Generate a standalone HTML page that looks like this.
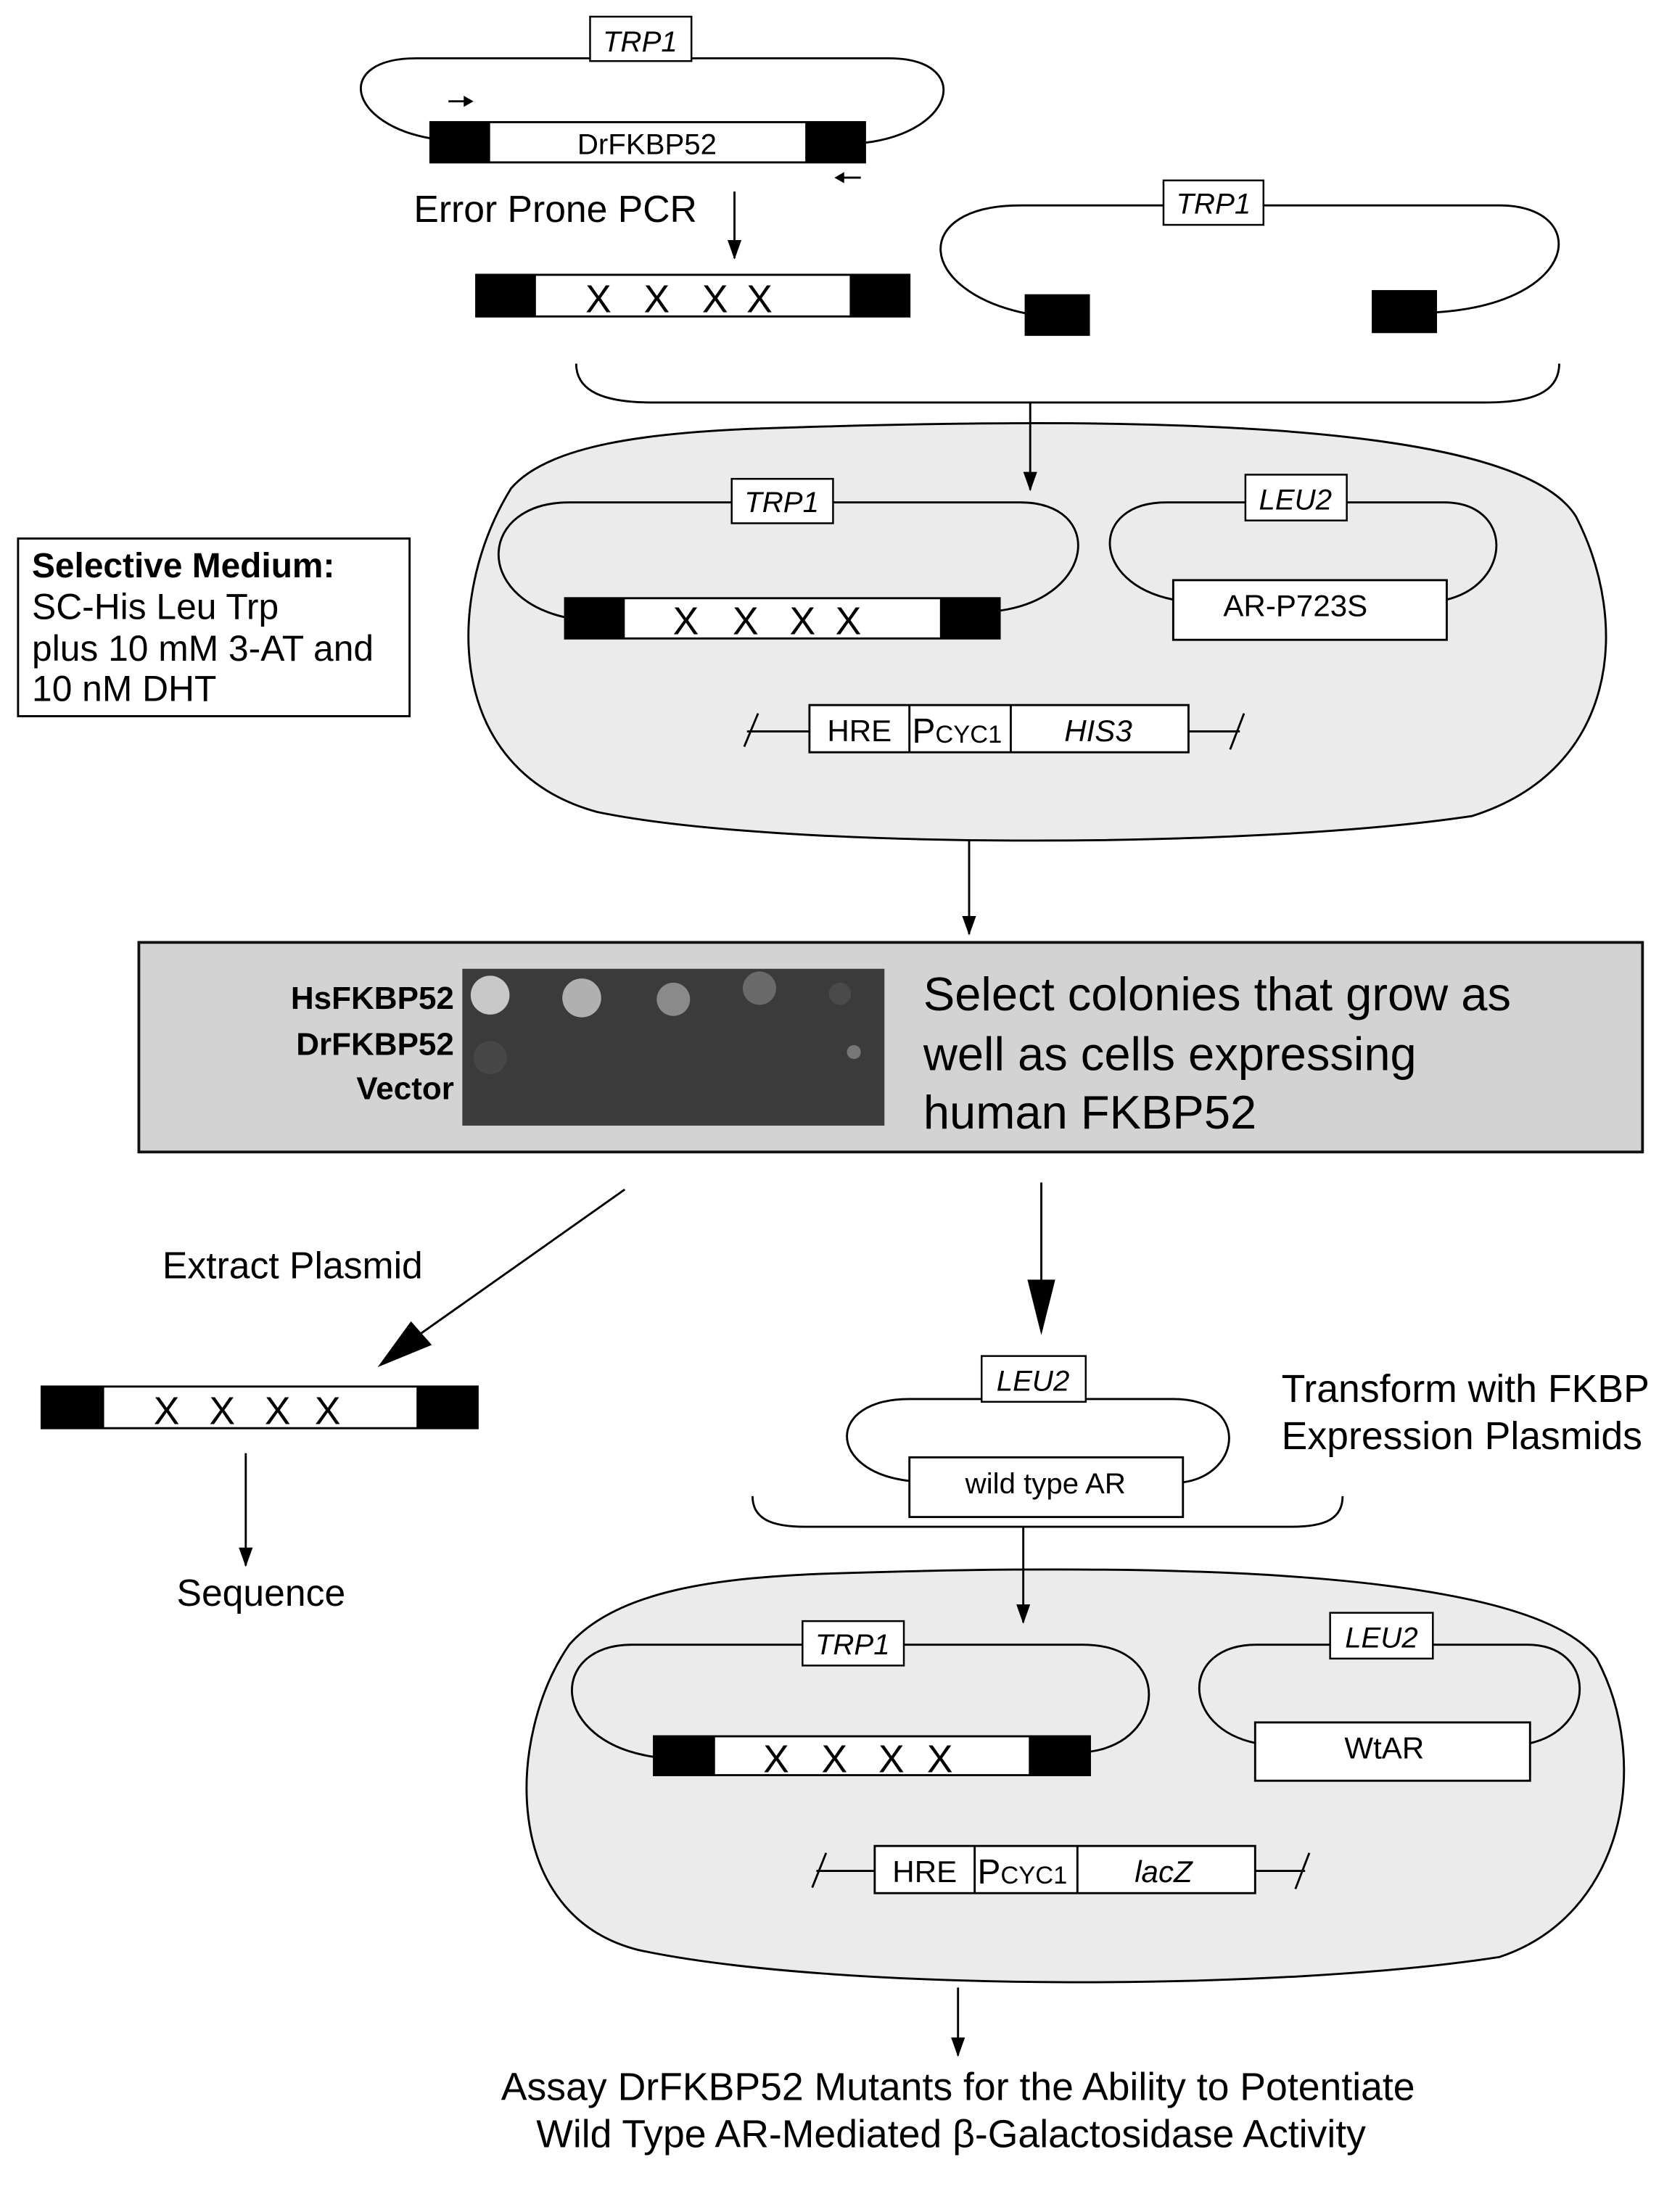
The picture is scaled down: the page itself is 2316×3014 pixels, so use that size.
<!DOCTYPE html>
<html><head><meta charset="utf-8"><style>
html,body{margin:0;padding:0;background:#fff}
svg{display:block}
text{font-family:"Liberation Sans",Arial,sans-serif;fill:#000}
</style></head><body>
<svg width="2316" height="3014" viewBox="0 0 1210 1575" preserveAspectRatio="none" xmlns="http://www.w3.org/2000/svg">
<defs>
<marker id="ah" markerWidth="14" markerHeight="10" refX="13" refY="5" orient="auto" markerUnits="userSpaceOnUse" viewBox="0 0 14 10"><path d="M0 0 L14 5 L0 10 Z" fill="#000"/></marker>
</defs>
<g fill="none" stroke="#000" stroke-width="1.5">
<path d="M312 100 C250 90 240 42 300 42 L640 42 C700 42 690 95 622 103"/>
</g>
<rect x="425" y="12" width="73" height="32" fill="#fff" stroke="#000" stroke-width="1.3"/>
<text x="461" y="37" font-size="21" font-style="italic" text-anchor="middle">TRP1</text>
<rect x="310" y="88" width="313" height="29" fill="#fff" stroke="#000" stroke-width="1.5"/>
<rect x="310" y="88" width="43" height="29" fill="#000"/><rect x="580" y="88" width="43" height="29" fill="#000"/>
<text x="466" y="111" font-size="21" text-anchor="middle">DrFKBP52</text>
<line x1="323" y1="73" x2="336" y2="73" stroke="#000" stroke-width="1.5"/><path d="M334 69 L341 73 L334 77Z"/>
<line x1="606" y1="128" x2="620" y2="128" stroke="#000" stroke-width="1.5"/><path d="M608 124 L601 128 L608 132Z"/>
<text x="298" y="160" font-size="27">Error Prone PCR</text>
<line x1="529" y1="138" x2="529" y2="186" stroke="#000" stroke-width="1.5" marker-end="url(#ah)"/>
<rect x="343" y="198" width="312" height="30" fill="#fff" stroke="#000" stroke-width="1.5"/>
<rect x="343" y="198" width="43" height="30" fill="#000"/><rect x="612" y="198" width="43" height="30" fill="#000"/>
<g font-size="28" text-anchor="middle"><text x="431" y="225">X</text><text x="473" y="225">X</text><text x="515" y="225">X</text><text x="547" y="225">X</text></g>
<path d="M740 226 C660 210 655 148 735 148 L1080 148 C1145 148 1140 218 1035 225" fill="none" stroke="#000" stroke-width="1.5"/>
<rect x="838" y="130" width="72" height="32" fill="#fff" stroke="#000" stroke-width="1.3"/>
<text x="874" y="154" font-size="21" font-style="italic" text-anchor="middle">TRP1</text>
<rect x="738" y="212" width="47" height="30" fill="#000"/><rect x="988" y="209" width="47" height="31" fill="#000"/>
<path d="M415 262 C415 282 435 290 470 290 L1070 290 C1105 290 1123 282 1123 262" fill="none" stroke="#000" stroke-width="1.5"/>
<!-- cell 1 -->
<path d="M540 309 C800 300 1090 300 1135 372 C1175 450 1165 555 1060 588 C900 612 560 612 430 585 C320 555 320 430 368 352 C395 320 470 312 540 309 Z" fill="#ebebeb" stroke="#000" stroke-width="1.5"/>
<line x1="742" y1="290" x2="742" y2="353" stroke="#000" stroke-width="1.5" marker-end="url(#ah)"/>
<path d="M408 445 C340 430 345 362 410 362 L735 362 C795 362 790 430 720 440" fill="none" stroke="#000" stroke-width="1.5"/>
<rect x="527" y="345" width="73" height="32" fill="#fff" stroke="#000" stroke-width="1.3"/>
<text x="563" y="369" font-size="21" font-style="italic" text-anchor="middle">TRP1</text>
<rect x="407" y="431" width="313" height="29" fill="#fff" stroke="#000" stroke-width="1.5"/>
<rect x="407" y="431" width="43" height="29" fill="#000"/><rect x="677" y="431" width="43" height="29" fill="#000"/>
<g font-size="28" text-anchor="middle"><text x="494" y="457">X</text><text x="537" y="457">X</text><text x="578" y="457">X</text><text x="611" y="457">X</text></g>
<path d="M845 432 C785 420 785 362 840 362 L1040 362 C1090 362 1090 420 1042 432" fill="none" stroke="#000" stroke-width="1.5"/>
<rect x="897" y="342" width="73" height="33" fill="#fff" stroke="#000" stroke-width="1.3"/>
<text x="933" y="367" font-size="21" font-style="italic" text-anchor="middle">LEU2</text>
<rect x="845" y="418" width="197" height="43" fill="#fff" stroke="#000" stroke-width="1.5"/>
<text x="933" y="444" font-size="22" text-anchor="middle">AR-P723S</text>
<g stroke="#000" stroke-width="1.5"><line x1="538" y1="527" x2="583" y2="527"/><line x1="536" y1="538" x2="546" y2="514"/><line x1="856" y1="527" x2="893" y2="527"/><line x1="886" y1="540" x2="896" y2="514"/></g>
<rect x="583" y="508" width="273" height="34" fill="#fff" stroke="#000" stroke-width="1.5"/>
<line x1="655" y1="508" x2="655" y2="542" stroke="#000" stroke-width="1.5"/><line x1="728" y1="508" x2="728" y2="542" stroke="#000" stroke-width="1.5"/>
<text x="619" y="534" font-size="22" text-anchor="middle">HRE</text>
<text x="657" y="535" font-size="25">P<tspan font-size="18">CYC1</tspan></text>
<text x="791" y="534" font-size="22" font-style="italic" text-anchor="middle">HIS3</text>
<rect x="13" y="388" width="282" height="128" fill="#fff" stroke="#000" stroke-width="1.5"/>
<text x="23" y="416" font-size="25" font-weight="bold">Selective Medium:</text>
<text x="23" y="446" font-size="26">SC-His Leu Trp</text>
<text x="23" y="476" font-size="26">plus 10 mM 3-AT and</text>
<text x="23" y="505" font-size="26">10 nM DHT</text>
<line x1="698" y1="605" x2="698" y2="673" stroke="#000" stroke-width="1.5" marker-end="url(#ah)"/>
<rect x="100" y="679" width="1083" height="151" fill="#d3d3d3" stroke="#111" stroke-width="2"/>
<rect x="333" y="698" width="304" height="113" fill="#3b3b3b"/>
<circle cx="353" cy="717" r="14" fill="#c8c8c8"/><circle cx="419" cy="719" r="14" fill="#b0b0b0"/>
<circle cx="485" cy="720" r="12" fill="#8a8a8a"/><circle cx="547" cy="712" r="12" fill="#6a6a6a"/>
<circle cx="605" cy="716" r="8" fill="#4a4a4a"/><circle cx="353" cy="762" r="12" fill="#474747"/><circle cx="615" cy="758" r="5" fill="#777"/>
<g font-size="23" font-weight="bold" text-anchor="end"><text x="327" y="727">HsFKBP52</text><text x="327" y="760">DrFKBP52</text><text x="327" y="792">Vector</text></g>
<g font-size="34"><text x="665" y="728">Select colonies that grow as</text><text x="665" y="771">well as cells expressing</text><text x="665" y="813">human FKBP52</text></g>
<line x1="450" y1="857" x2="300" y2="963" stroke="#000" stroke-width="1.5"/>
<path d="M272 985 L296 952 L311 969 Z"/>
<text x="117" y="921" font-size="27">Extract Plasmid</text>
<line x1="750" y1="852" x2="750" y2="925" stroke="#000" stroke-width="1.5"/>
<path d="M740 922 L750 962 L760 922 Z"/>
<rect x="30" y="999" width="314" height="30" fill="#fff" stroke="#000" stroke-width="1.5"/>
<rect x="30" y="999" width="45" height="30" fill="#000"/><rect x="300" y="999" width="44" height="30" fill="#000"/>
<g font-size="28" text-anchor="middle"><text x="120" y="1026">X</text><text x="160" y="1026">X</text><text x="200" y="1026">X</text><text x="236" y="1026">X</text></g>
<line x1="177" y1="1047" x2="177" y2="1128" stroke="#000" stroke-width="1.5" marker-end="url(#ah)"/>
<text x="188" y="1157" font-size="27" text-anchor="middle">Sequence</text>
<path d="M655 1067 C595 1060 595 1008 655 1008 L845 1008 C900 1008 895 1062 852 1068" fill="none" stroke="#000" stroke-width="1.5"/>
<rect x="707" y="977" width="75" height="33" fill="#fff" stroke="#000" stroke-width="1.3"/>
<text x="744" y="1002" font-size="21" font-style="italic" text-anchor="middle">LEU2</text>
<rect x="655" y="1050" width="197" height="43" fill="#fff" stroke="#000" stroke-width="1.5"/>
<text x="753" y="1076" font-size="21" text-anchor="middle">wild type AR</text>
<text x="923" y="1010" font-size="28">Transform with FKBP</text>
<text x="923" y="1044" font-size="28">Expression Plasmids</text>
<path d="M542 1078 C542 1094 555 1100 580 1100 L930 1100 C955 1100 967 1094 967 1078" fill="none" stroke="#000" stroke-width="1.5"/>
<path d="M590 1134 C820 1126 1100 1128 1150 1195 C1190 1270 1170 1380 1080 1410 C920 1435 600 1435 460 1405 C360 1380 365 1250 410 1185 C445 1145 520 1137 590 1134 Z" fill="#ebebeb" stroke="#000" stroke-width="1.5"/>
<line x1="737" y1="1100" x2="737" y2="1169" stroke="#000" stroke-width="1.5" marker-end="url(#ah)"/>
<path d="M472 1266 C395 1255 395 1185 455 1185 L780 1185 C845 1185 840 1255 785 1262" fill="none" stroke="#000" stroke-width="1.5"/>
<rect x="578" y="1168" width="73" height="32" fill="#fff" stroke="#000" stroke-width="1.3"/>
<text x="614" y="1192" font-size="21" font-style="italic" text-anchor="middle">TRP1</text>
<rect x="471" y="1251" width="314" height="28" fill="#fff" stroke="#000" stroke-width="1.5"/>
<rect x="471" y="1251" width="44" height="28" fill="#000"/><rect x="741" y="1251" width="44" height="28" fill="#000"/>
<g font-size="28" text-anchor="middle"><text x="559" y="1277">X</text><text x="601" y="1277">X</text><text x="642" y="1277">X</text><text x="677" y="1277">X</text></g>
<path d="M905 1256 C850 1245 850 1185 905 1185 L1100 1185 C1150 1185 1150 1245 1102 1256" fill="none" stroke="#000" stroke-width="1.5"/>
<rect x="958" y="1162" width="74" height="33" fill="#fff" stroke="#000" stroke-width="1.3"/>
<text x="995" y="1187" font-size="21" font-style="italic" text-anchor="middle">LEU2</text>
<rect x="904" y="1241" width="198" height="42" fill="#fff" stroke="#000" stroke-width="1.5"/>
<text x="997" y="1267" font-size="22" text-anchor="middle">WtAR</text>
<g stroke="#000" stroke-width="1.5"><line x1="588" y1="1348" x2="630" y2="1348"/><line x1="585" y1="1360" x2="595" y2="1335"/><line x1="904" y1="1348" x2="940" y2="1348"/><line x1="933" y1="1361" x2="943" y2="1335"/></g>
<rect x="630" y="1330" width="274" height="34" fill="#fff" stroke="#000" stroke-width="1.5"/>
<line x1="702" y1="1330" x2="702" y2="1364" stroke="#000" stroke-width="1.5"/><line x1="776" y1="1330" x2="776" y2="1364" stroke="#000" stroke-width="1.5"/>
<text x="666" y="1356" font-size="22" text-anchor="middle">HRE</text>
<text x="704" y="1357" font-size="25">P<tspan font-size="18">CYC1</tspan></text>
<text x="838" y="1356" font-size="22" font-style="italic" text-anchor="middle">lacZ</text>
<line x1="690" y1="1432" x2="690" y2="1481" stroke="#000" stroke-width="1.5" marker-end="url(#ah)"/>
<text x="690" y="1513" font-size="28" text-anchor="middle">Assay DrFKBP52 Mutants for the Ability to Potentiate</text>
<text x="685" y="1547" font-size="28" text-anchor="middle">Wild Type AR-Mediated β-Galactosidase Activity</text>
</svg>
</body></html>
